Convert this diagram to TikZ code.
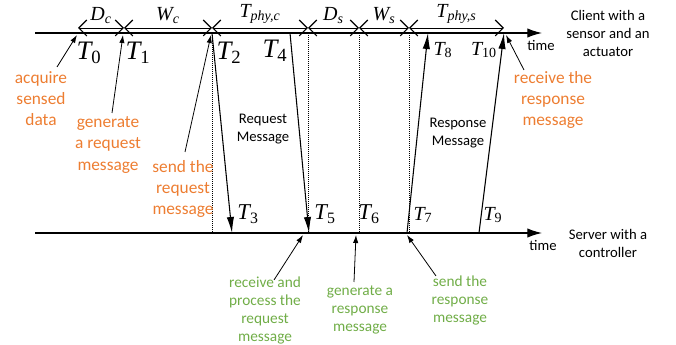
\documentclass[tikz,border=0pt]{standalone}
\usepackage{fontspec}
\setmainfont{Carlito}
\newfontfamily\tms{Liberation Serif}
\usetikzlibrary{arrows.meta,positioning}
\definecolor{noteorange}{RGB}{237,125,49}
\definecolor{notegreen}{RGB}{112,173,71}
\newcommand{\tT}[1]{{\tms\itshape T}{\tms\textsubscript{#1}}}
\newcommand{\tD}[2]{{\tms\itshape #1\textsubscript{#2}}}

\tikzset{
  timeline/.style={line width=0.9pt, -{Latex[length=11pt,width=7pt]}},
  msgline/.style={line width=0.8pt, -{Latex[length=12pt,width=5.5pt]}},
  span/.style={line width=0.6pt, {Straight Barb[length=6pt,width=12pt,line width=0.8pt]}-{Straight Barb[length=6pt,width=12pt,line width=0.8pt]}},
  guide/.style={densely dotted, line width=0.5pt},
  pointer/.style={line width=0.6pt, -{Latex[length=6pt,width=4pt]}},
  orangenote/.style={text=noteorange, align=center, inner sep=0pt, font=\fontsize{13}{15.8}\selectfont},
  greennote/.style={text=notegreen, align=center, inner sep=0pt, font=\fontsize{11.5}{13.5}\selectfont},
  blacknote/.style={align=center, inner sep=0pt, font=\fontsize{11}{13.5}\selectfont},
  bigT/.style={inner sep=0pt, font=\fontsize{20}{20}\selectfont},
  midT/.style={inner sep=0pt, font=\fontsize{17}{17}\selectfont},
  smallT/.style={inner sep=0pt, font=\fontsize{15}{15}\selectfont},
  spanlabel/.style={inner sep=0pt, above=3pt, font=\fontsize{15}{15}\selectfont},
}

\begin{document}
\begin{tikzpicture}[x=0.75pt, y=-0.75pt]
  \useasboundingbox (0,0) rectangle (676,345);

  % the two time axes
  \coordinate (cstart) at (35,33);
  \coordinate (cend) at (542,33);
  \coordinate (sstart) at (35,233);
  \coordinate (send) at (542,233);
  \draw[timeline] (cstart) -- (cend);
  \draw[timeline] (sstart) -- (send);
  \node[blacknote] (ctime) at (541,45) {time};
  \node[blacknote] (stime) at (543,245) {time};
  \node[blacknote] (client) at (608,33) {Client with a\\sensor and an\\actuator};
  \node[blacknote] (server) at (608,243) {Server with a\\controller};

  % instants on the client line
  \coordinate (c0) at (78,33);
  \coordinate (c1) at (124,33);
  \coordinate (c2) at (212,33);
  \coordinate (c4) at (290,33);
  \coordinate (c8) at (428,33);
  \coordinate (c10) at (504,33);
  % instants on the server line
  \coordinate (s3) at (232,233);
  \coordinate (s5) at (309,233);
  \coordinate (s6) at (359,233);
  \coordinate (s7) at (407,233);
  \coordinate (s9) at (479,233);

  % durations
  \foreach \a/\b/\n/\txt in {78/124/dc/{\tD{D}{c}},
                              124/212/wc/{\tD{W}{c}},
                              212/308/tc/{\tD{T}{phy,c}},
                              308/359/ds/{\tD{D}{s}},
                              359/409/ws/{\tD{W}{s}},
                              409/504/ts/{\tD{T}{phy,s}}} {
    \draw[span] (\a,28) -- (\b,28);
    \node[spanlabel] (\n) at ({(\a+\b)/2},28) {\txt};
  }

  % dotted guides
  \foreach \x in {212,308,359,409}
    \draw[guide] (\x,33) -- (\x,233);

  % messages
  \draw[msgline] (c2) -- (s3);
  \draw[msgline] (c4) -- (s5);
  \draw[msgline] (s7) -- (c8);
  \draw[msgline] (s9) -- (c10);
  \node[blacknote] (reqmsg) at (263,129) {Request\\Message};
  \node[blacknote] (resmsg) at (458,133) {Response\\Message};

  % time stamps
  \node[bigT] (lT0) at (89,53) {\tT{0}};
  \node[bigT] (lT1) at (138,53) {\tT{1}};
  \node[bigT] (lT2) at (229,53) {\tT{2}};
  \node[bigT] (lT4) at (275,51) {\tT{4}};
  \node[smallT] (lT8) at (443,50) {\tT{8}};
  \node[smallT] (lT10) at (484,50) {\tT{10}};
  \node[midT] (lT3) at (248,214) {\tT{3}};
  \node[midT] (lT5) at (325,214) {\tT{5}};
  \node[midT] (lT6) at (369,214) {\tT{6}};
  \node[smallT] (lT7) at (423,215) {\tT{7}};
  \node[smallT] (lT9) at (493,215) {\tT{9}};

  % client side events
  \node[orangenote] (acq) at (41,99) {acquire\\sensed\\data};
  \node[orangenote] (genreq) at (108,145) {generate\\a request\\message};
  \node[orangenote] (sendreq) at (183,189) {send the\\request\\message};
  \node[orangenote] (recvres) at (553,100) {receive the\\response\\message};
  \coordinate (acqtail) at (57,67);
  \coordinate (genreqtail) at (112,113);
  \coordinate (sendreqtail) at (185,152);
  \coordinate (recvrestail) at (524,70);
  \draw[pointer] (acqtail) -- ([shift={(-1,2)}]c0);
  \draw[pointer] (genreqtail) -- ([shift={(-1,2)}]c1);
  \draw[pointer] (sendreqtail) -- ([shift={(-1,2)}]c2);
  \draw[pointer] (recvrestail) -- ([shift={(2,2)}]c10);

  % server side events
  \node[greennote] (recvreq) at (265,310) {receive and\\process the\\request\\message};
  \node[greennote] (genres) at (360,310) {generate a\\response\\message};
  \node[greennote] (sendres) at (460,300) {send the\\response\\message};
  \coordinate (recvreqtail) at (274,280);
  \coordinate (genrestail) at (354,282);
  \coordinate (sendrestail) at (436,276);
  \draw[pointer] (recvreqtail) -- ([shift={(-6,2)}]s5);
  \draw[pointer] (genrestail) -- ([shift={(-3,2)}]s6);
  \draw[pointer] (sendrestail) -- ([shift={(0,2)}]s7);
\end{tikzpicture}
\end{document}
